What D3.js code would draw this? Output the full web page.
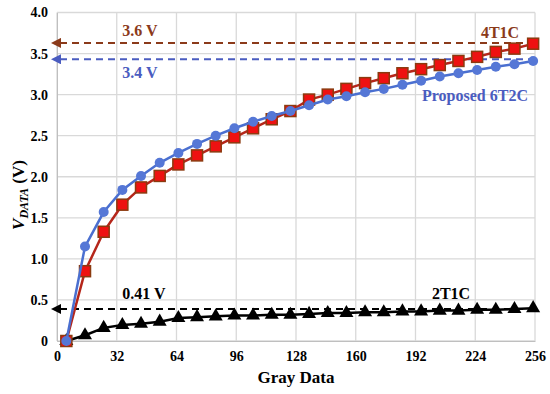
<!DOCTYPE html>
<html>
<head>
<meta charset="utf-8">
<script src="https://cdn.jsdelivr.net/npm/d3@7"></script>
<style>
  body { margin: 0; background: #fff; }
  svg text { font-family: "Liberation Serif", "Times New Roman", serif; font-weight: bold; }
</style>
</head>
<body>
<div id="chart"></div>
<script>
var grayLevels = [5, 15, 25, 35, 45, 55, 65, 75, 85, 95, 105, 115, 125, 135, 145, 155, 165, 175, 185, 195, 205, 215, 225, 235, 245, 255];

var proposed6T2C = [0, 1.15, 1.57, 1.84, 2.01, 2.17, 2.29, 2.40, 2.50, 2.59, 2.67, 2.74, 2.80, 2.87, 2.94, 2.98, 3.03, 3.07, 3.12, 3.17, 3.22, 3.26, 3.30, 3.34, 3.37, 3.41];
var fourT1C = [0, 0.85, 1.33, 1.66, 1.87, 2.01, 2.15, 2.26, 2.37, 2.48, 2.59, 2.70, 2.80, 2.94, 3.00, 3.07, 3.14, 3.20, 3.26, 3.31, 3.36, 3.41, 3.46, 3.52, 3.56, 3.62];
var twoT1C = [0, 0.07, 0.16, 0.195, 0.21, 0.235, 0.28, 0.29, 0.30, 0.31, 0.31, 0.32, 0.32, 0.33, 0.34, 0.34, 0.35, 0.35, 0.36, 0.36, 0.37, 0.37, 0.38, 0.38, 0.39, 0.40];

var xTicks = [0, 32, 64, 96, 128, 160, 192, 224, 256];
var yTicks = [0, 0.5, 1.0, 1.5, 2.0, 2.5, 3.0, 3.5, 4.0];

// reference levels: value, label
var refLevels = [
  { v: 3.63, label: "3.6 V", color: "#8b3a1a" },
  { v: 3.43, label: "3.4 V", color: "#4a5cc0" },
  { v: 0.39, label: "0.41 V", color: "#000" }
];

var width = 550, height = 394;
var margin = { left: 57, right: 15, top: 12.5, bottom: 53 };

var svg = d3.select("#chart").append("svg")
  .attr("width", width)
  .attr("height", height);

var x = d3.scaleLinear().domain([0, 256]).range([margin.left, width - margin.right]);
var y = d3.scaleLinear().domain([0, 4]).range([height - margin.bottom, margin.top]);

// grid
svg.append("g").selectAll("line.v")
  .data(xTicks)
  .enter().append("line")
  .attr("x1", function(d) { return x(d); })
  .attr("x2", function(d) { return x(d); })
  .attr("y1", y(0))
  .attr("y2", y(4))
  .attr("stroke", "#d9d9d9")
  .attr("stroke-width", 1.3);

svg.append("g").selectAll("line.h")
  .data(yTicks)
  .enter().append("line")
  .attr("x1", x(0))
  .attr("x2", x(256))
  .attr("y1", function(d) { return y(d); })
  .attr("y2", function(d) { return y(d); })
  .attr("stroke", "#d9d9d9")
  .attr("stroke-width", 1.3);

// axes (labels only, lines are the grid)
var xAxis = svg.append("g")
  .attr("transform", "translate(0," + y(0) + ")")
  .call(d3.axisBottom(x).tickValues(xTicks).tickSize(0).tickPadding(10).tickFormat(d3.format("d")));
xAxis.select(".domain").attr("stroke", "#bfbfbf");

var yAxis = svg.append("g")
  .attr("transform", "translate(" + x(0) + ",0)")
  .call(d3.axisLeft(y).tickValues(yTicks).tickSize(0).tickPadding(9)
    .tickFormat(function(d) { return d === 0 ? "0" : d3.format(".1f")(d); }));
yAxis.select(".domain").attr("stroke", "#bfbfbf");

svg.selectAll(".tick text")
  .attr("font-family", "Liberation Serif")
  .attr("font-weight", "bold")
  .attr("font-size", 14)
  .attr("fill", "#000");

// axis titles
svg.append("text")
  .attr("x", (x(0) + x(256)) / 2)
  .attr("y", 383)
  .attr("text-anchor", "middle")
  .attr("font-size", 17)
  .text("Gray Data");

var yTitle = svg.append("text")
  .attr("transform", "translate(24," + 195 + ") rotate(-90)")
  .attr("text-anchor", "middle")
  .attr("font-size", 17);
yTitle.append("tspan").attr("font-style", "italic").text("V");
yTitle.append("tspan").attr("font-style", "italic").attr("font-size", 12).attr("dy", 4).text("DATA");
yTitle.append("tspan").attr("dy", -4).text(" (V)");

// dashed reference arrows
var defs = svg.append("defs");
refLevels.forEach(function(r, i) {
  defs.append("marker")
    .attr("id", "arr" + i)
    .attr("viewBox", "0 0 10 10")
    .attr("refX", 1).attr("refY", 5)
    .attr("markerWidth", 5).attr("markerHeight", 5)
    .attr("orient", "auto-start-reverse")
    .append("path")
    .attr("d", "M0,0 L10,5 L0,10 z")
    .attr("fill", r.color);
});

svg.append("g").selectAll("line.ref")
  .data(refLevels)
  .enter().append("line")
  .attr("x1", x(256))
  .attr("x2", x(0) + 3)
  .attr("y1", function(d) { return y(d.v); })
  .attr("y2", function(d) { return y(d.v); })
  .attr("stroke", function(d) { return d.color; })
  .attr("stroke-width", 2)
  .attr("stroke-dasharray", "7,5")
  .attr("marker-end", function(d, i) { return "url(#arr" + i + ")"; });

// series
var line = d3.line()
  .x(function(d) { return x(d[0]); })
  .y(function(d) { return y(d[1]); });

function pairs(vals) {
  return grayLevels.map(function(g, i) { return [g, vals[i]]; });
}

// 2T1C
svg.append("path")
  .datum(pairs(twoT1C))
  .attr("d", line)
  .attr("fill", "none")
  .attr("stroke", "#000")
  .attr("stroke-width", 2.5);
svg.append("g").selectAll("path")
  .data(pairs(twoT1C))
  .enter().append("path")
  .attr("transform", function(d) { return "translate(" + x(d[0]) + "," + y(d[1]) + ")"; })
  .attr("d", d3.symbol().type(d3.symbolTriangle).size(85))
  .attr("fill", "#000");

// 4T1C
svg.append("path")
  .datum(pairs(fourT1C))
  .attr("d", line)
  .attr("fill", "none")
  .attr("stroke", "#b5261a")
  .attr("stroke-width", 2.5);
svg.append("g").selectAll("rect")
  .data(pairs(fourT1C))
  .enter().append("rect")
  .attr("x", function(d) { return x(d[0]) - 5.5; })
  .attr("y", function(d) { return y(d[1]) - 5.5; })
  .attr("width", 11)
  .attr("height", 11)
  .attr("fill", "#ee1111")
  .attr("stroke", "#8b3a0f")
  .attr("stroke-width", 1.5);

// Proposed 6T2C
svg.append("path")
  .datum(pairs(proposed6T2C))
  .attr("d", line)
  .attr("fill", "none")
  .attr("stroke", "#4a6fd0")
  .attr("stroke-width", 2.5);
svg.append("g").selectAll("circle")
  .data(pairs(proposed6T2C))
  .enter().append("circle")
  .attr("cx", function(d) { return x(d[0]); })
  .attr("cy", function(d) { return y(d[1]); })
  .attr("r", 5)
  .attr("fill", "#5577d6");

// labels
var labels = [
  { t: "3.6 V", x: 140, y: 36, c: "#8b3a1a" },
  { t: "3.4 V", x: 140, y: 78, c: "#4a5cc0" },
  { t: "0.41 V", x: 144, y: 299, c: "#000" },
  { t: "4T1C", x: 500, y: 38, c: "#8b3a1a" },
  { t: "Proposed 6T2C", x: 475, y: 101, c: "#4a5cc0" },
  { t: "2T1C", x: 451, y: 299, c: "#000" }
];
svg.append("g").selectAll("text")
  .data(labels)
  .enter().append("text")
  .attr("x", function(d) { return d.x; })
  .attr("y", function(d) { return d.y; })
  .attr("text-anchor", "middle")
  .attr("font-size", 16)
  .attr("fill", function(d) { return d.c; })
  .text(function(d) { return d.t; });
</script>
</body>
</html>
